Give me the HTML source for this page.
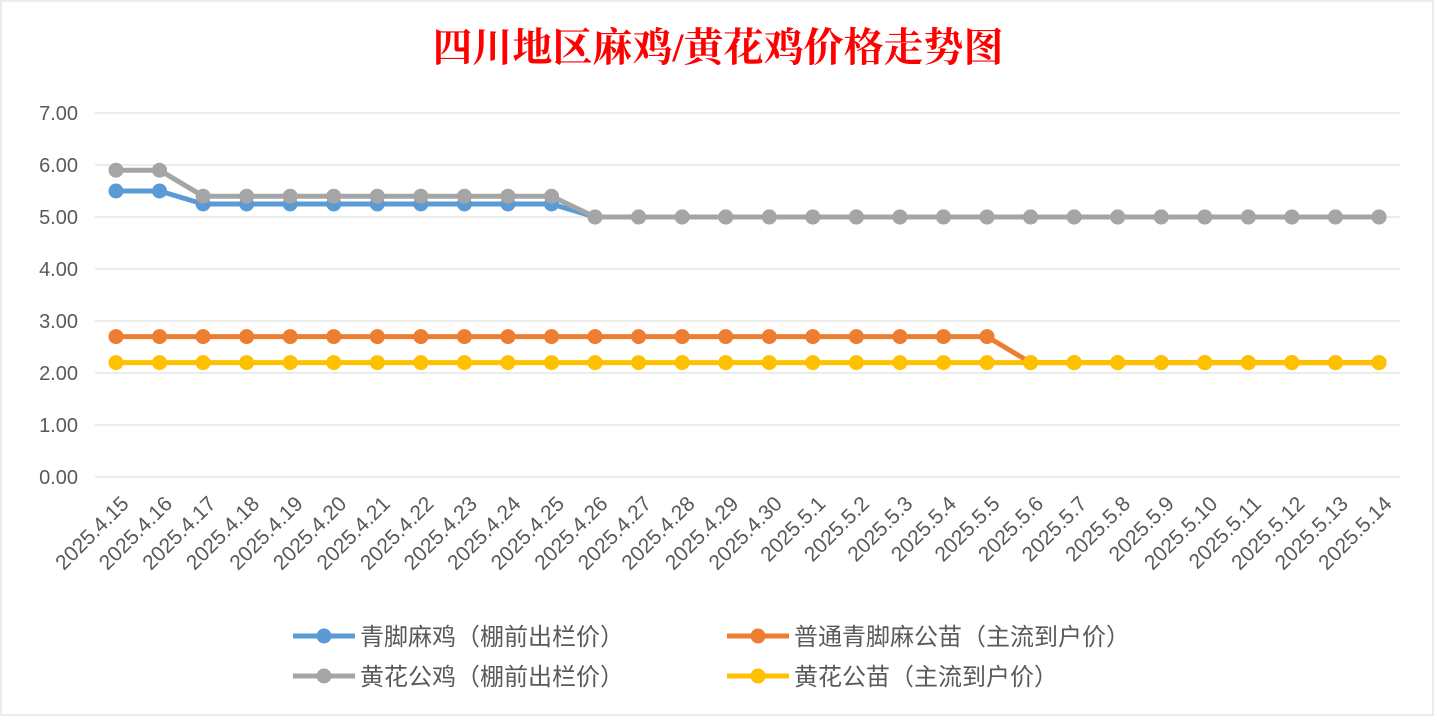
<!DOCTYPE html>
<html><head><meta charset="utf-8"><style>
body{margin:0;background:#fff;}
svg{display:block;font-family:"Liberation Sans","Noto Sans CJK SC",sans-serif;}
</style></head><body>
<svg width="1437" height="720">
<rect x="1" y="1" width="1432" height="714" fill="#fff" stroke="#d9d9d9"/>
<text x="718" y="61" text-anchor="middle" fill="#ff0000" font-size="40" font-weight="bold" font-family="'Liberation Serif','Noto Serif CJK SC',serif">四川地区麻鸡/黄花鸡价格走势图</text>
<g id="grid"></g><g id="ylab"></g><g id="xlab"></g><g id="series"></g><g id="legend"></g>
</svg>
<script>
const categories=["2025.4.15","2025.4.16","2025.4.17","2025.4.18","2025.4.19","2025.4.20","2025.4.21","2025.4.22","2025.4.23","2025.4.24","2025.4.25","2025.4.26","2025.4.27","2025.4.28","2025.4.29","2025.4.30","2025.5.1","2025.5.2","2025.5.3","2025.5.4","2025.5.5","2025.5.6","2025.5.7","2025.5.8","2025.5.9","2025.5.10","2025.5.11","2025.5.12","2025.5.13","2025.5.14"];
const blueValues=[5.5,5.5,5.25,5.25,5.25,5.25,5.25,5.25,5.25,5.25,5.25,5,5,5,5,5,5,5,5,5,5,5,5,5,5,5,5,5,5,5];
const orangeValues=[2.7,2.7,2.7,2.7,2.7,2.7,2.7,2.7,2.7,2.7,2.7,2.7,2.7,2.7,2.7,2.7,2.7,2.7,2.7,2.7,2.7,2.2,2.2,2.2,2.2,2.2,2.2,2.2,2.2,2.2];
const grayValues=[5.9,5.9,5.4,5.4,5.4,5.4,5.4,5.4,5.4,5.4,5.4,5,5,5,5,5,5,5,5,5,5,5,5,5,5,5,5,5,5,5];
const yellowValues=[2.2,2.2,2.2,2.2,2.2,2.2,2.2,2.2,2.2,2.2,2.2,2.2,2.2,2.2,2.2,2.2,2.2,2.2,2.2,2.2,2.2,2.2,2.2,2.2,2.2,2.2,2.2,2.2,2.2,2.2];
const yTicks=[0,1,2,3,4,5,6,7];
const seriesNames=["青脚麻鸡（棚前出栏价）","普通青脚麻公苗（主流到户价）","黄花公鸡（棚前出栏价）","黄花公苗（主流到户价）"];
const NS="http://www.w3.org/2000/svg";
const x0=116,x1=1379,yB=477,yT=113;
const xs=i=>x0+(x1-x0)*i/(categories.length-1);
const ys=v=>yB-(yB-yT)*v/7;
function mk(t,a,p){const e=document.createElementNS(NS,t);for(const k in a)e.setAttribute(k,a[k]);p.appendChild(e);return e;}
const grid=document.getElementById('grid'),ylab=document.getElementById('ylab'),xlab=document.getElementById('xlab');
yTicks.forEach(v=>{
 const l=mk('line',{x1:95,x2:1400,y1:ys(v),y2:ys(v),stroke:'#d9d9d9','stroke-width':1},grid);
 
 
 const t=mk('text',{x:78,y:ys(v)+7,'text-anchor':'end','font-size':20,fill:'#595959'},ylab);
 t.textContent=v.toFixed(2);
 
 
});
categories.forEach((c,i)=>{
 const x=xs(i)+14,y=505;
 const t=mk('text',{x:x,y:y,'text-anchor':'end','font-size':21,fill:'#595959',transform:`rotate(-45 ${x} ${y})`},xlab);
 t.textContent=c;
 
 
});
const ser=document.getElementById('series');
const defs=[[blueValues,'#5b9bd5','series-blue'],[orangeValues,'#ed7d31','series-orange'],[grayValues,'#a5a5a5','series-gray'],[yellowValues,'#ffc000','series-yellow']];
defs.forEach(([vals,col,name])=>{
 const g=mk('g',{},ser);
 
 
 const p=mk('polyline',{points:vals.map((v,i)=>xs(i)+','+ys(v)).join(' '),fill:'none',stroke:col,'stroke-width':5,'stroke-linejoin':'round'},g);
 
 
 vals.forEach((v,i)=>{
  const c=mk('circle',{cx:xs(i),cy:ys(v),r:7.5,fill:col},g);
  
  
 });
});
const leg=document.getElementById('legend');
const lpos=[[293,636],[727,636],[293,676],[727,676]];
const lcol=['#5b9bd5','#ed7d31','#a5a5a5','#ffc000'];
seriesNames.forEach((n,i)=>{
 const [x,y]=lpos[i];
 const g=mk('g',{},leg);
 
 
 mk('line',{x1:x,x2:x+62,y1:y,y2:y,stroke:lcol[i],'stroke-width':5},g);
 mk('circle',{cx:x+31,cy:y,r:7.5,fill:lcol[i]},g);
 const t=mk('text',{x:x+67,y:y+9,'font-size':24,fill:'#595959'},g);
 t.textContent=n;
});
</script>
</body></html>
